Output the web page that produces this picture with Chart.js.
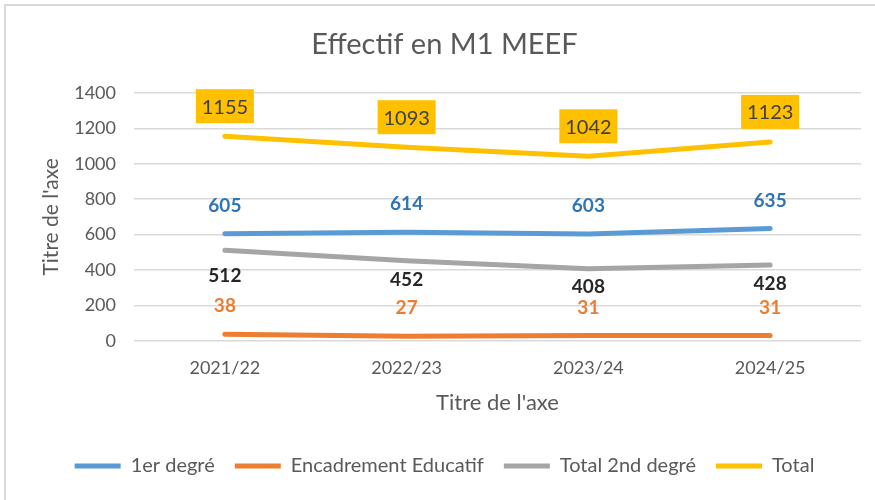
<!DOCTYPE html>
<html>
<head>
<meta charset="utf-8">
<script src="https://cdn.jsdelivr.net/npm/chart.js@4/dist/chart.umd.min.js"></script>
<style>
html,body{margin:0;padding:0;background:#fff;}
#wrap{width:875px;height:500px;position:relative;}
</style>
</head>
<body>
<div id="wrap"><canvas id="c" width="875" height="500"></canvas></div>
<script>
const categories = ['2021/22', '2022/23', '2023/24', '2024/25'];
const premierDegre = [605, 614, 603, 635];
const encadrement = [38, 27, 31, 31];
const secondDegre = [512, 452, 408, 428];
const total = [1155, 1093, 1042, 1123];
const yTicks = [0, 200, 400, 600, 800, 1000, 1200, 1400];

const FONT = 'Lato, "Open Sans", sans-serif';
const GREY_TEXT = '#595959';

// label styling per series (offset in px from point; negative = above)
const labelStyles = [
  {color: '#2E75B6', bold: true, offsets: [-29, -29, -29, -29]},
  {color: '#ED7D31', bold: true, offsets: [-29, -29, -29, -29]},
  {color: '#262626', bold: true, offsets: [25, 18, 17, 18]},
  {color: '#404040', bold: false, offsets: [-30, -30, -30, -30], box: '#FFC000'}
];

const frame = {
  id: 'frame',
  beforeDraw(chart) {
    const ctx = chart.ctx;
    ctx.save();
    ctx.fillStyle = '#fff';
    ctx.fillRect(0, 0, chart.width, chart.height);
    ctx.strokeStyle = '#D9D9D9';
    ctx.lineWidth = 2;
    ctx.beginPath();
    ctx.moveTo(5, chart.height);
    ctx.lineTo(5, 5);
    ctx.lineTo(chart.width, 5);
    ctx.stroke();
    ctx.restore();
  }
};

const dataLabels = {
  id: 'dataLabels',
  afterDatasetsDraw(chart) {
    const ctx = chart.ctx;
    chart.data.datasets.forEach((ds, i) => {
      const st = labelStyles[i];
      const meta = chart.getDatasetMeta(i);
      meta.data.forEach((pt, j) => {
        const txt = String(ds.data[j]);
        const x = pt.x, y = pt.y + st.offsets[j];
        ctx.save();
        if (st.box) {
          ctx.fillStyle = st.box;
          ctx.fillRect(x - 29, y - 17, 58, 34);
          ctx.font = '400 20px ' + FONT;
        } else {
          ctx.font = (st.bold ? '700 ' : '400 ') + '19px ' + FONT;
        }
        ctx.fillStyle = st.color;
        ctx.textAlign = 'center';
        ctx.textBaseline = 'middle';
        ctx.fillText(txt, x, y + 1);
        ctx.restore();
      });
    });
  }
};

function line(label, data, color) {
  return {
    label, data,
    borderColor: color, backgroundColor: color,
    borderWidth: 5, borderCapStyle: 'round', borderJoinStyle: 'round',
    pointRadius: 0, pointHoverRadius: 0, tension: 0, fill: false
  };
}

new Chart(document.getElementById('c'), {
  type: 'line',
  data: {
    labels: categories,
    datasets: [
      line('1er degré', premierDegre, '#5B9BD5'),
      line('Encadrement Educatif', encadrement, '#ED7D31'),
      line('Total 2nd degré', secondDegre, '#A5A5A5'),
      line('Total', total, '#FFC000')
    ]
  },
  options: {
    responsive: false,
    animation: false,
    layout: {padding: {left: 28, right: 14, top: 0, bottom: 14}},
    plugins: {
      title: {
        display: true,
        text: 'Effectif en M1 MEEF',
        color: GREY_TEXT,
        font: {family: FONT, size: 29, weight: '400'},
        padding: {top: 27, bottom: 31}
      },
      legend: {
        position: 'bottom',
        labels: {
          usePointStyle: true,
          pointStyle: 'line',
          pointStyleWidth: 46,
          color: GREY_TEXT,
          font: {family: FONT, size: 20},
          padding: 20
        }
      },
      tooltip: {enabled: false}
    },
    scales: {
      x: {
        offset: true,
        afterFit(scale) { scale.height = 95; },
        grid: {display: false, drawTicks: false},
        border: {display: false},
        ticks: {color: GREY_TEXT, font: {family: FONT, size: 18}, padding: 16},
        title: {display: true, text: "Titre de l'axe", color: GREY_TEXT,
          font: {family: FONT, size: 22}, padding: {top: 0, bottom: 20}}
      },
      y: {
        min: 0, max: 1400,
        afterBuildTicks(scale) { scale.ticks = yTicks.map(v => ({value: v})); },
        afterFit(scale) { scale.width = 106; },
        grid: {color: '#D9D9D9', lineWidth: 1.5, drawTicks: false},
        border: {display: false},
        ticks: {color: GREY_TEXT, font: {family: FONT, size: 18}, padding: 18,
          callback: (v) => String(v)},
        title: {display: true, text: "Titre de l'axe", color: GREY_TEXT,
          font: {family: FONT, size: 21}, padding: {top: 11}}
      }
    }
  },
  plugins: [frame, dataLabels]
});
</script>
</body>
</html>
